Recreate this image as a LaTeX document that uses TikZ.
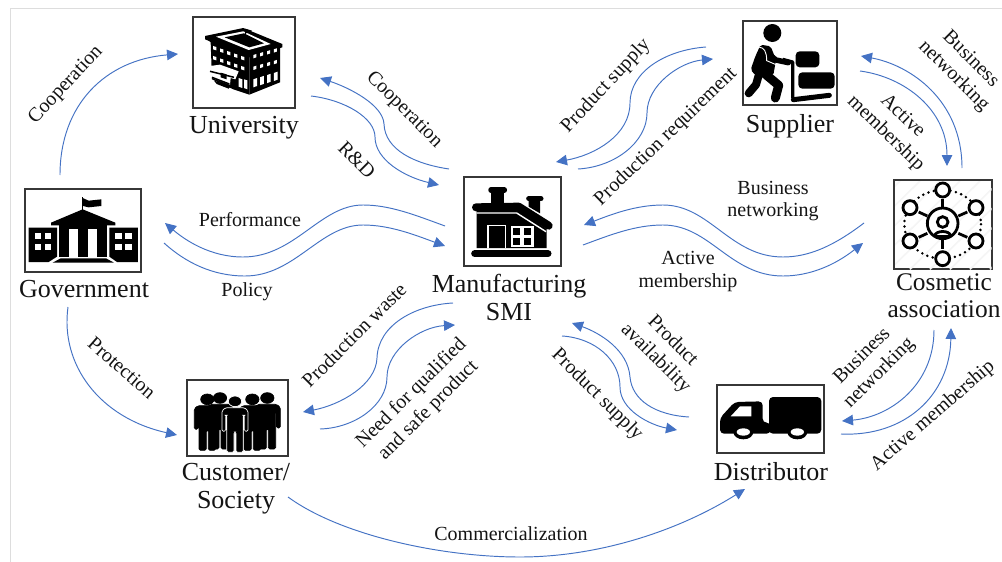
\documentclass[tikz,border=0pt]{standalone}
\usepackage{fontspec}
\setmainfont{Liberation Serif}
\usetikzlibrary{arrows.meta}
\definecolor{flow}{HTML}{4472C4}
\definecolor{frameg}{HTML}{DDDDDD}
\definecolor{ink}{HTML}{141414}
\tikzset{
  box/.style={draw=ink!85,line width=1.3pt,fill=white,inner sep=0pt},
  actor/.style={font=\fontsize{26}{28}\selectfont,text=ink,align=center,inner sep=0pt},
  lab/.style={font=\fontsize{20}{24}\selectfont,text=ink,align=center,inner sep=0pt},
  labh/.style={font=\fontsize{20}{22.5}\selectfont,text=ink,align=center,inner sep=0pt},
  conn/.style={draw=flow,line width=0.95pt},
  arr/.style={conn,-{Triangle[length=11pt,width=10.5pt]}},
  blk/.style={fill=black,draw=none},
  wht/.style={fill=white,draw=none},
  ring/.style={draw=black,line width=2.8pt,fill=white},
}
\newcommand{\personicon}[3]{%
 \begin{scope}[shift={(#1,#2)}]
  \draw[fill=black,draw=#3,line width=0.7pt] (0,0) ellipse [x radius=20,y radius=16];
  \draw[fill=black,draw=#3,line width=0.7pt,rounded corners=1.5pt]
    (-28,19) -- (28,19) -- (39,28) -- (39,90) -- (28,90) -- (28,42) -- (25,42) -- (25,153) -- (3,153) -- (3,92) -- (-3,92) -- (-3,153) -- (-25,153) -- (-25,42) -- (-28,42) -- (-28,90) -- (-39,90) -- (-39,28) -- cycle;
 \end{scope}}
\begin{document}
\begin{tikzpicture}[x=1pt,y=-1pt]
\useasboundingbox (0,0) rectangle (1002,562);
\fill[white] (0,0) rectangle (1002,562);
\draw[frameg,line width=1.6pt] (10.5,562) -- (10.5,8.5) -- (1002,8.5);

% ---- boxes
\node[box,minimum width=102pt,minimum height=91pt] (univ) at (244,62.5) {};
\node[box,minimum width=116pt,minimum height=83pt] (gov) at (83,230.5) {};
\node[box,minimum width=97pt,minimum height=89pt] (smi) at (512.5,221.5) {};
\node[box,minimum width=94pt,minimum height=84pt] (sup) at (790,63) {};
\node[box,minimum width=98pt,minimum height=89pt] (cos) at (943,224.5) {};
\node[box,minimum width=101pt,minimum height=76pt] (cust) at (237.5,418) {};
\node[box,minimum width=107pt,minimum height=68pt] (dist) at (770.5,419) {};

% ---- University icon
\begin{scope}[shift={(190,14)},scale=1/3]
 \path[blk] (50,72) -- (178,120) -- (178,242) -- (130,226) -- (66,196) -- (62,85) -- cycle;
 \path[blk] (178,120) -- (270,92) -- (270,205) -- (178,242) -- cycle;
 \path[blk] (45,66) -- (160,42) -- (277,90) -- (277,100) -- (178,130) -- (45,76) -- cycle;
 \path[wht] (78,68) -- (160,52) -- (242,90) -- (176,108) -- cycle;
 \path[blk] (104,70) -- (162,58) -- (222,88) -- (178,100) -- cycle;
 \draw[line width=1.3pt] (166,78) -- (166,44);
 \path[blk] (166,44) -- (186,50) -- (168,58) -- cycle;
 \foreach \i in {0,1,2,3,4}{
  \path[wht] ({69+21*\i},{96+7.5*\i}) -- ({79+21*\i},{99+7.5*\i}) -- ({79+21*\i},{109+7.5*\i}) -- ({69+21*\i},{106+7.5*\i}) -- cycle;
  \path[wht] ({69+21*\i},{126+7.5*\i}) -- ({79+21*\i},{129+7.5*\i}) -- ({79+21*\i},{139+7.5*\i}) -- ({69+21*\i},{136+7.5*\i}) -- cycle;
 }
 \foreach \i in {0,1,2,3}{
  \path[wht] ({190+20.5*\i},{123-5.7*\i}) -- ({199+20.5*\i},{120-5.7*\i}) -- ({199+20.5*\i},{130-5.7*\i}) -- ({190+20.5*\i},{133-5.7*\i}) -- cycle;
  \path[wht] ({190+20.5*\i},{158-5.7*\i}) -- ({199+20.5*\i},{155-5.7*\i}) -- ({199+20.5*\i},{165-5.7*\i}) -- ({190+20.5*\i},{168-5.7*\i}) -- cycle;
  \path[wht] ({190+20.5*\i},{196-6.3*\i}) -- ({201+20.5*\i},{192-6.3*\i}) -- ({201+20.5*\i},{216-6.3*\i}) -- ({190+20.5*\i},{220-6.3*\i}) -- cycle;
 }
 \path[wht] (146,192) -- (157,196) -- (157,222) -- (146,218) -- cycle;
 \path[wht] (162,196) -- (172,199) -- (172,226) -- (162,222) -- cycle;
 \path[wht] (60,156) -- (90,152) -- (146,172) -- (136,196) -- (122,192) -- (120,212) -- (62,190) -- cycle;
 \draw[line width=1.5pt] (60,172) -- (132,190);
 \draw[line width=1.5pt] (66,190) -- (118,210);
 \path[blk] (92,176) -- (110,181) -- (110,196) -- (92,190) -- cycle;
 \path[blk] (72,200) -- (122,216) -- (116,224) -- (80,210) -- cycle;
\end{scope}

% ---- Government icon
\begin{scope}[shift={(22,186)},scale=1/3]
 \draw[line width=1.6pt] (182,34) -- (182,82);
 \path[blk] (182,36) -- (200,44) -- (238,40) -- (238,60) -- (200,64) -- (183,60) -- cycle;
 \path[blk] (87,110) -- (182,70) -- (280,110) -- (280,118) -- (87,118) -- cycle;
 \path[blk] (110,116) rectangle (255,214);
 \path[wht] (142,130) rectangle (168,214);
 \path[wht] (197,130) rectangle (224,214);
 \path[blk] (20,125) -- (105,125) -- (105,212) -- (80,228) -- (20,228) -- cycle;
 \path[blk] (262,125) -- (348,125) -- (348,228) -- (285,228) -- (262,212) -- cycle;
 \foreach \x in {38,68,280,310}{
  \foreach \y in {142,175}{
   \path[wht] (\x,\y) rectangle ({\x+19},{\y+18});
  }}
 \path[blk] (92,230) -- (116,217) -- (252,217) -- (276,230) -- cycle;
\end{scope}

% ---- Manufacturing icon
\begin{scope}[shift={(460,174)},scale=1/3]
 \path[blk] (50,105) -- (170,105) -- (260,165) -- (260,222) -- (50,222) -- cycle;
 \path[blk] (92,55) rectangle (132,90);
 \draw[line width=5.5pt,line cap=round] (93,48) -- (133,48);
 \path[blk] (206,75) -- (240,75) -- (240,118) -- (206,98) -- cycle;
 \draw[line width=5pt,line cap=round] (206,74) -- (243,74);
 \draw[line width=8pt,line cap=round,line join=round] (48,100) -- (176,98) -- (266,155);
 \draw[white,line width=1.4pt] (50,117) -- (170,117) -- (258,173);
 \draw[line width=7pt,line cap=round] (44,239) -- (264,239);
 \draw[white,line width=1.4pt] (84,222) -- (84,155) -- (137,155) -- (137,222);
 \path[wht] (152,156) rectangle (221,218);
 \foreach \x in {159,193}{
  \foreach \y in {163,193}{
   \path[blk] (\x,\y) rectangle ({\x+21},{\y+19});
  }}
\end{scope}

% ---- Supplier icon
\begin{scope}[shift={(740,18)},scale=1/3]
 \fill (97,45) circle [radius=27];
 \path[blk,rounded corners=2pt] (62,80) -- (92,85) -- (108,125) -- (100,172) -- (46,172) -- (32,155) -- (46,115) -- cycle;
 \draw[line width=9pt,line cap=round,line join=round] (72,165) -- (116,202) -- (106,240);
 \draw[line width=8pt,line cap=round,line join=round] (58,165) -- (48,200) -- (26,226);
 \draw[line width=5.5pt,line cap=round,line join=round] (82,105) -- (108,126) -- (145,134);
 \draw[white,line width=0.9pt] (58,88) .. controls (72,88) and (80,100) .. (80,128) -- (108,140);
 \draw[line width=3.2pt,line join=round] (128,124) -- (158,132) -- (158,240);
 \draw[line width=5pt,line cap=round] (160,245) -- (268,232);
 \path[blk,rounded corners=4pt] (167,100) rectangle (238,148);
 \path[blk,rounded corners=4pt] (175,163) rectangle (284,212);
\end{scope}

% ---- Cosmetic association icon
\begin{scope}[shift={(890,176)},scale=1/3]
 \begin{scope}
  \clip (15,15) rectangle (305,280);
  \foreach \d in {-240,-180,...,300}{
   \draw[black!4,line width=1.6pt] ({\d},280) -- ({\d+270},15);
  }
 \end{scope}
 \draw[black,line width=2.8pt,dash pattern=on 0pt off 5.6pt,line cap=round] (158,145) ellipse [x radius=115,y radius=103];
 \draw[line width=2.8pt] (158,68) -- (158,92);
 \draw[line width=2.8pt] (158,192) -- (158,220);
 \draw[line width=2.8pt] (86,108) -- (112,120);
 \draw[line width=2.8pt] (232,108) -- (205,120);
 \draw[line width=2.8pt] (86,184) -- (112,172);
 \draw[line width=2.8pt] (232,184) -- (205,172);
 \draw[ring] (158,142) circle [radius=46];
 \draw[line width=2.8pt] (158,138) circle [radius=16];
 \draw[line width=2.8pt] (134,180) .. controls (136,162) and (180,162) .. (182,180);
 \draw[line width=2.8pt] (136,180) -- (180,180);
 \draw[ring] (158,42) circle [radius=21];
 \draw[ring] (60,95) circle [radius=21];
 \draw[ring] (258,95) circle [radius=21];
 \draw[ring] (60,195) circle [radius=21];
 \draw[ring] (258,195) circle [radius=21];
 \draw[ring] (158,248) circle [radius=21];
\end{scope}

% ---- Customer icon
\begin{scope}[shift={(184,376)},scale=1/3]
 \personicon{70}{70}{black}
 \personicon{108}{66}{black}
 \personicon{250}{66}{black}
 \personicon{205}{70}{black}
 \personicon{153}{76}{white}
\end{scope}

% ---- Distributor icon
\begin{scope}[shift={(714,382)},scale=1/3]
 \path[blk,rounded corners=4pt] (165,45) -- (322,45) -- (322,155) -- (165,155) -- cycle;
 \path[blk,rounded corners=4pt] (18,108) -- (62,60) -- (146,58) -- (146,122) -- (170,122) -- (170,155) -- (18,155) -- cycle;
 \path[wht] (50,103) -- (78,73) -- (112,73) -- (112,103) -- cycle;
 \fill (88,150) ellipse [x radius=30,y radius=22];
 \fill (250,150) ellipse [x radius=30,y radius=22];
 \fill[white] (88,150) ellipse [x radius=20,y radius=11];
 \fill[white] (250,150) ellipse [x radius=20,y radius=11];
\end{scope}

% ---- actor labels
\node[actor] (tuniv) at (244,127.5) {University};
\node[actor] (tgov) at (84,289) {Government};
\node[actor] (tsmi) at (509,297) {Manufacturing\\SMI};
\node[actor] (tsup) at (790,126) {Supplier};
\node[actor,font=\fontsize{25.4}{27}\selectfont] (tcos) at (944,296) {Cosmetic\\association};
\node[actor] (tcust) at (236,488.5) {Customer/\\Society};
\node[actor] (tdist) at (771,472) {Distributor};

% ---- connector ends
\coordinate (g1) at (60,175);   \coordinate (u1) at (178,54);
\coordinate (m1) at (449,169);  \coordinate (m1c) at (384,124); \coordinate (u2) at (320,78);
\coordinate (u3) at (311,96);   \coordinate (u3c) at (375,137); \coordinate (m2) at (439,185);
\coordinate (m3) at (445,226);  \coordinate (m3a) at (363,205); \coordinate (m3b) at (243,257); \coordinate (g2) at (165,223);
\coordinate (g3) at (164,243);  \coordinate (g3a) at (245,276); \coordinate (g3b) at (363,225); \coordinate (m4) at (445,246);
\coordinate (m5) at (453,303);  \coordinate (m5c) at (377,358); \coordinate (c1) at (303,412);
\coordinate (c2) at (320,429);  \coordinate (c2c) at (387,377); \coordinate (m6) at (455,325);
\coordinate (g4) at (68,307);   \coordinate (c3) at (177,435);
\coordinate (c4) at (288,497);  \coordinate (c4c) at (520,557); \coordinate (d1) at (745,489);
\coordinate (d2) at (689,417);  \coordinate (d2c) at (630,377); \coordinate (m7) at (572,323);
\coordinate (m8) at (562,336);  \coordinate (m8c) at (620,387); \coordinate (d3) at (677,430);
\coordinate (k1) at (934,330);  \coordinate (d4) at (842,421);
\coordinate (d5) at (841,434);  \coordinate (k2) at (951,328);
\coordinate (k3) at (962,168);  \coordinate (s1) at (861,56);
\coordinate (s2) at (860,71);   \coordinate (k4) at (947,166);
\coordinate (k5) at (864,223);  \coordinate (k5a) at (783,257); \coordinate (k5b) at (663,205); \coordinate (m9) at (584,225);
\coordinate (m10) at (583,245); \coordinate (m10a) at (663,225); \coordinate (m10b) at (783,276); \coordinate (k6) at (863,243);
\coordinate (s3) at (706,47);   \coordinate (s3c) at (630,103); \coordinate (m11) at (556,162);
\coordinate (m12) at (578,169); \coordinate (m12c) at (647,113); \coordinate (s4) at (713,59);

% ---- connectors
\draw[arr] (g1) .. controls (60,105) and (105,60) .. (u1);
\draw[arr] (m1) .. controls (415,164) and (385,150) .. (m1c) .. controls (383,105) and (350,88) .. (u2);
\draw[arr] (u3) .. controls (345,100) and (375,118) .. (u3c) .. controls (375,160) and (405,177) .. (m2);
\draw[arr] (m3) .. controls (415,215) and (390,205) .. (m3a) .. controls (320,205) and (295,257) .. (m3b) .. controls (210,257) and (185,240) .. (g2);
\draw[arr] (g3) .. controls (185,262) and (212,276) .. (g3a) .. controls (295,276) and (320,225) .. (g3b) .. controls (390,225) and (415,235) .. (m4);
\draw[arr] (m5) .. controls (415,305) and (378,325) .. (m5c) .. controls (376,385) and (340,405) .. (c1);
\draw[arr] (c2) .. controls (355,428) and (387,405) .. (c2c) .. controls (387,350) and (420,327) .. (m6);
\draw[arr] (g4) .. controls (60,365) and (100,418) .. (c3);
\draw[arr] (c4) .. controls (340,535) and (440,557) .. (c4c) .. controls (600,557) and (680,530) .. (d1);
\draw[arr] (d2) .. controls (655,415) and (632,400) .. (d2c) .. controls (628,350) and (600,333) .. (m7);
\draw[arr] (m8) .. controls (595,338) and (620,360) .. (m8c) .. controls (620,410) and (650,425) .. (d3);
\draw[arr] (k1) .. controls (934,385) and (890,417) .. (d4);
\draw[arr] (d5) .. controls (905,437) and (950,395) .. (k2);
\draw[arr] (k3) .. controls (962,100) and (910,65) .. (s1);
\draw[arr] (s2) .. controls (905,77) and (947,110) .. (k4);
\draw[arr] (k5) .. controls (835,245) and (810,257) .. (k5a) .. controls (730,257) and (710,205) .. (k5b) .. controls (635,205) and (610,215) .. (m9);
\draw[arr] (m10) .. controls (610,235) and (635,225) .. (m10a) .. controls (710,225) and (730,276) .. (m10b) .. controls (810,276) and (835,265) .. (k6);
\draw[arr] (s3) .. controls (665,50) and (630,72) .. (s3c) .. controls (630,135) and (595,155) .. (m11);
\draw[arr] (m12) .. controls (615,167) and (647,142) .. (m12c) .. controls (647,85) and (680,62) .. (s4);

% ---- connector labels
\node[lab,rotate=47] (l1) at (66,85) {Cooperation};
\node[lab,rotate=-45] (l2) at (404,110) {Cooperation};
\node[lab,rotate=-45] (l3) at (357,160) {R\&D};
\node[lab] (l4) at (250,220) {Performance};
\node[lab] (l5) at (247,291.5) {Policy};
\node[lab,rotate=47] (l6) at (606,86) {Product supply};
\node[lab,rotate=44] (l7) at (666,137) {Production requirement};
\node[lab,rotate=-45] (l8) at (962,68) {Business\\networking};
\node[lab,rotate=-44] (l9) at (894,125) {Active\\membership};
\node[labh] (l10) at (773,201) {Business\\networking};
\node[labh] (l11) at (688,271.5) {Active\\membership};
\node[lab,rotate=45] (l12) at (354,335) {Production waste};
\node[lab,rotate=45] (l13) at (420,402) {Need for qualified\\and safe product};
\node[lab,rotate=-41] (l14) at (122,368) {Protection};
\node[lab] (l15) at (511,534) {Commercialization};
\node[lab,rotate=-45] (l16) at (664,350) {Product\\availability};
\node[lab,rotate=-45] (l17) at (597,395) {Product supply};
\node[lab,rotate=45] (l18) at (871,365) {Business\\networking};
\node[lab,rotate=41] (l19) at (933,416) {Active membership};
\end{tikzpicture}
\end{document}
